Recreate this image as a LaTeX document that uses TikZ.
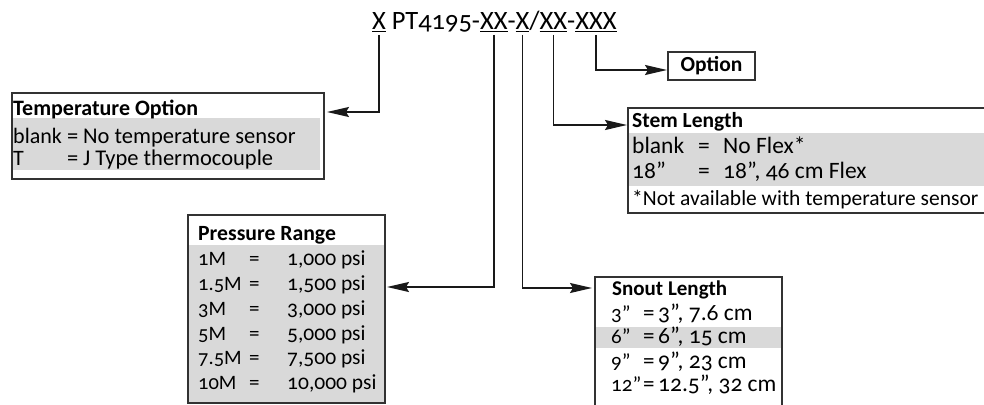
\documentclass[tikz,border=0pt]{standalone}
\usepackage{fontspec}
\setmainfont{Carlito}[Numbers=OldStyle]
\usetikzlibrary{arrows.meta}
\definecolor{rowgray}{RGB}{217,217,217}
\definecolor{framecol}{RGB}{50,50,50}
\newcommand{\fsz}[1]{\fontsize{#1}{#1}\selectfont}
\begin{document}
\begin{tikzpicture}[x=1pt,y=-1pt,
  frame/.style={draw=framecol, line width=1.1pt, inner sep=0pt, outer sep=0pt, anchor=north west},
  txt/.style={inner sep=0pt, anchor=base west},
  row/.style={txt, text height=14pt, text depth=4pt},
  ttl/.style={inner sep=0pt, outer sep=0pt, anchor=base west, font=\fsz{26.5}},
  conn/.style={draw=black!90, line width=1.7pt, shorten <=3pt,
    -{Stealth[length=22pt,width=10pt,inset=3pt]}},
  shade/.style={fill=rowgray}]
\useasboundingbox (0,0) rectangle (984,404);
\clip (0,0) rectangle (984,404);

% ---------- title ----------
\node[ttl] (t1) at (372,30) {\underline{X}};
\node[ttl] (t2) at (t1.base east) {\ PT4195-};
\node[ttl] (t3) at (t2.base east) {\underline{XX}};
\node[ttl] (t4) at (t3.base east) {-};
\node[ttl] (t5) at (t4.base east) {\underline{X}};
\node[ttl] (t6) at (t5.base east) {/};
\node[ttl] (t7) at (t6.base east) {\underline{XX}};
\node[ttl] (t8) at (t7.base east) {-};
\node[ttl] (t9) at (t8.base east) {\underline{XXX}};

% ---------- gray row fills ----------
\fill[shade] (13,118) rectangle (320,170);
\fill[shade] (629,133) rectangle (990,186);
\fill[shade] (189,245) rectangle (384,402);
\fill[shade] (596,327) rectangle (781,348);

% ---------- frames ----------
\node[frame, minimum width=312pt, minimum height=86pt] (temp) at (12,93) {};
\node[frame, minimum width=362pt, minimum height=105pt] (stem) at (628,108) {};
\node[frame, minimum width=197pt, minimum height=188pt] (pres) at (188,215) {};
\node[frame, minimum width=187pt, minimum height=140pt] (snout) at (595,277) {};
\node[frame, minimum width=87pt, minimum height=28pt,
      font=\fsz{21.5}\bfseries] (opt) at (668,52) {Option};

% ---------- Temperature Option ----------
\node[txt, font=\fsz{22}\bfseries] (tmph) at (13,115) {Temperature Option};
\node[row, font=\fsz{22}] (tmpa1) at (13,143.5) {blank};
\node[row, font=\fsz{22.5}] (tmpb1) at (67,143.5) {=};
\node[row, font=\fsz{22.5}] (tmpc1) at (83,143.5) {No temperature sensor};
\node[row, font=\fsz{22}] (tmpa2) at (13,165.5) {T};
\node[row, font=\fsz{22.5}] (tmpb2) at (67,165.5) {=};
\node[row, font=\fsz{22.5}] (tmpc2) at (83,165.5) {J Type thermocouple};

% ---------- Stem Length ----------
\node[txt, font=\fsz{21.5}\bfseries] (stmh) at (632,127) {Stem Length};
\node[row, font=\fsz{23.5}] (stma1) at (632,153) {blank};
\node[row, font=\fsz{23.5}] (stmb1) at (698,153) {=};
\node[row, font=\fsz{23.5}] (stmc1) at (723,153) {No Flex*};
\node[row, font=\fsz{23.5}] (stma2) at (632,178) {18”};
\node[row, font=\fsz{23.5}] (stmb2) at (698,178) {=};
\node[row, font=\fsz{23.5}] (stmc2) at (723,178) {18”, 46 cm Flex};
\node[row, font=\fsz{21.5}] (stmn) at (632,205) {*Not available with temperature sensor};

% ---------- Pressure Range ----------
\node[txt, font=\fsz{21.7}\bfseries] (prh) at (198,240) {Pressure Range};
\foreach \lab/\val/\yy [count=\i] in {1M/{1,000 psi}/265, 1.5M/{1,500 psi}/290,
    3M/{3,000 psi}/315, 5M/{5,000 psi}/340, 7.5M/{7,500 psi}/364, 10M/{10,000 psi}/389}{
  \node[row, font=\fsz{20.5}] (pra\i) at (198,\yy) {\lab};
  \node[row, font=\fsz{21}] (prb\i) at (249,\yy) {=};
  \node[row, font=\fsz{21.5}] (prc\i) at (287,\yy) {\val};
}

% ---------- Snout Length ----------
\node[txt, font=\fsz{21}\bfseries] (snh) at (612,295) {Snout Length};
\foreach \lab/\val/\yy [count=\i] in {3”/{3”, 7.6 cm}/320, 6”/{6”, 15 cm}/343,
    9”/{9”, 23 cm}/368, 12”/{12.5”, 32 cm}/391}{
  \node[row, font=\fsz{21}] (sna\i) at (611,\yy) {\lab};
  \node[row, font=\fsz{23}] (snb\i) at (643,\yy) {=};
  \node[row, font=\fsz{23.5}] (snc\i) at (658,\yy) {\val};
}

% ---------- connectors ----------
\draw[conn] (t1.south) |- ([yshift=-19pt,xshift=3pt]temp.north east);
\draw[conn] (t3.south) |- ([yshift=-72pt,xshift=2pt]pres.north east);
\draw[conn] (t5.south) |- ([yshift=-11pt,xshift=-3pt]snout.north west);
\draw[conn] (t7.south) |- ([yshift=-17pt,xshift=-1pt]stem.north west);
\draw[conn] (t9.south) |- ([yshift=-18pt,xshift=-1pt]opt.north west);
\end{tikzpicture}
\end{document}
